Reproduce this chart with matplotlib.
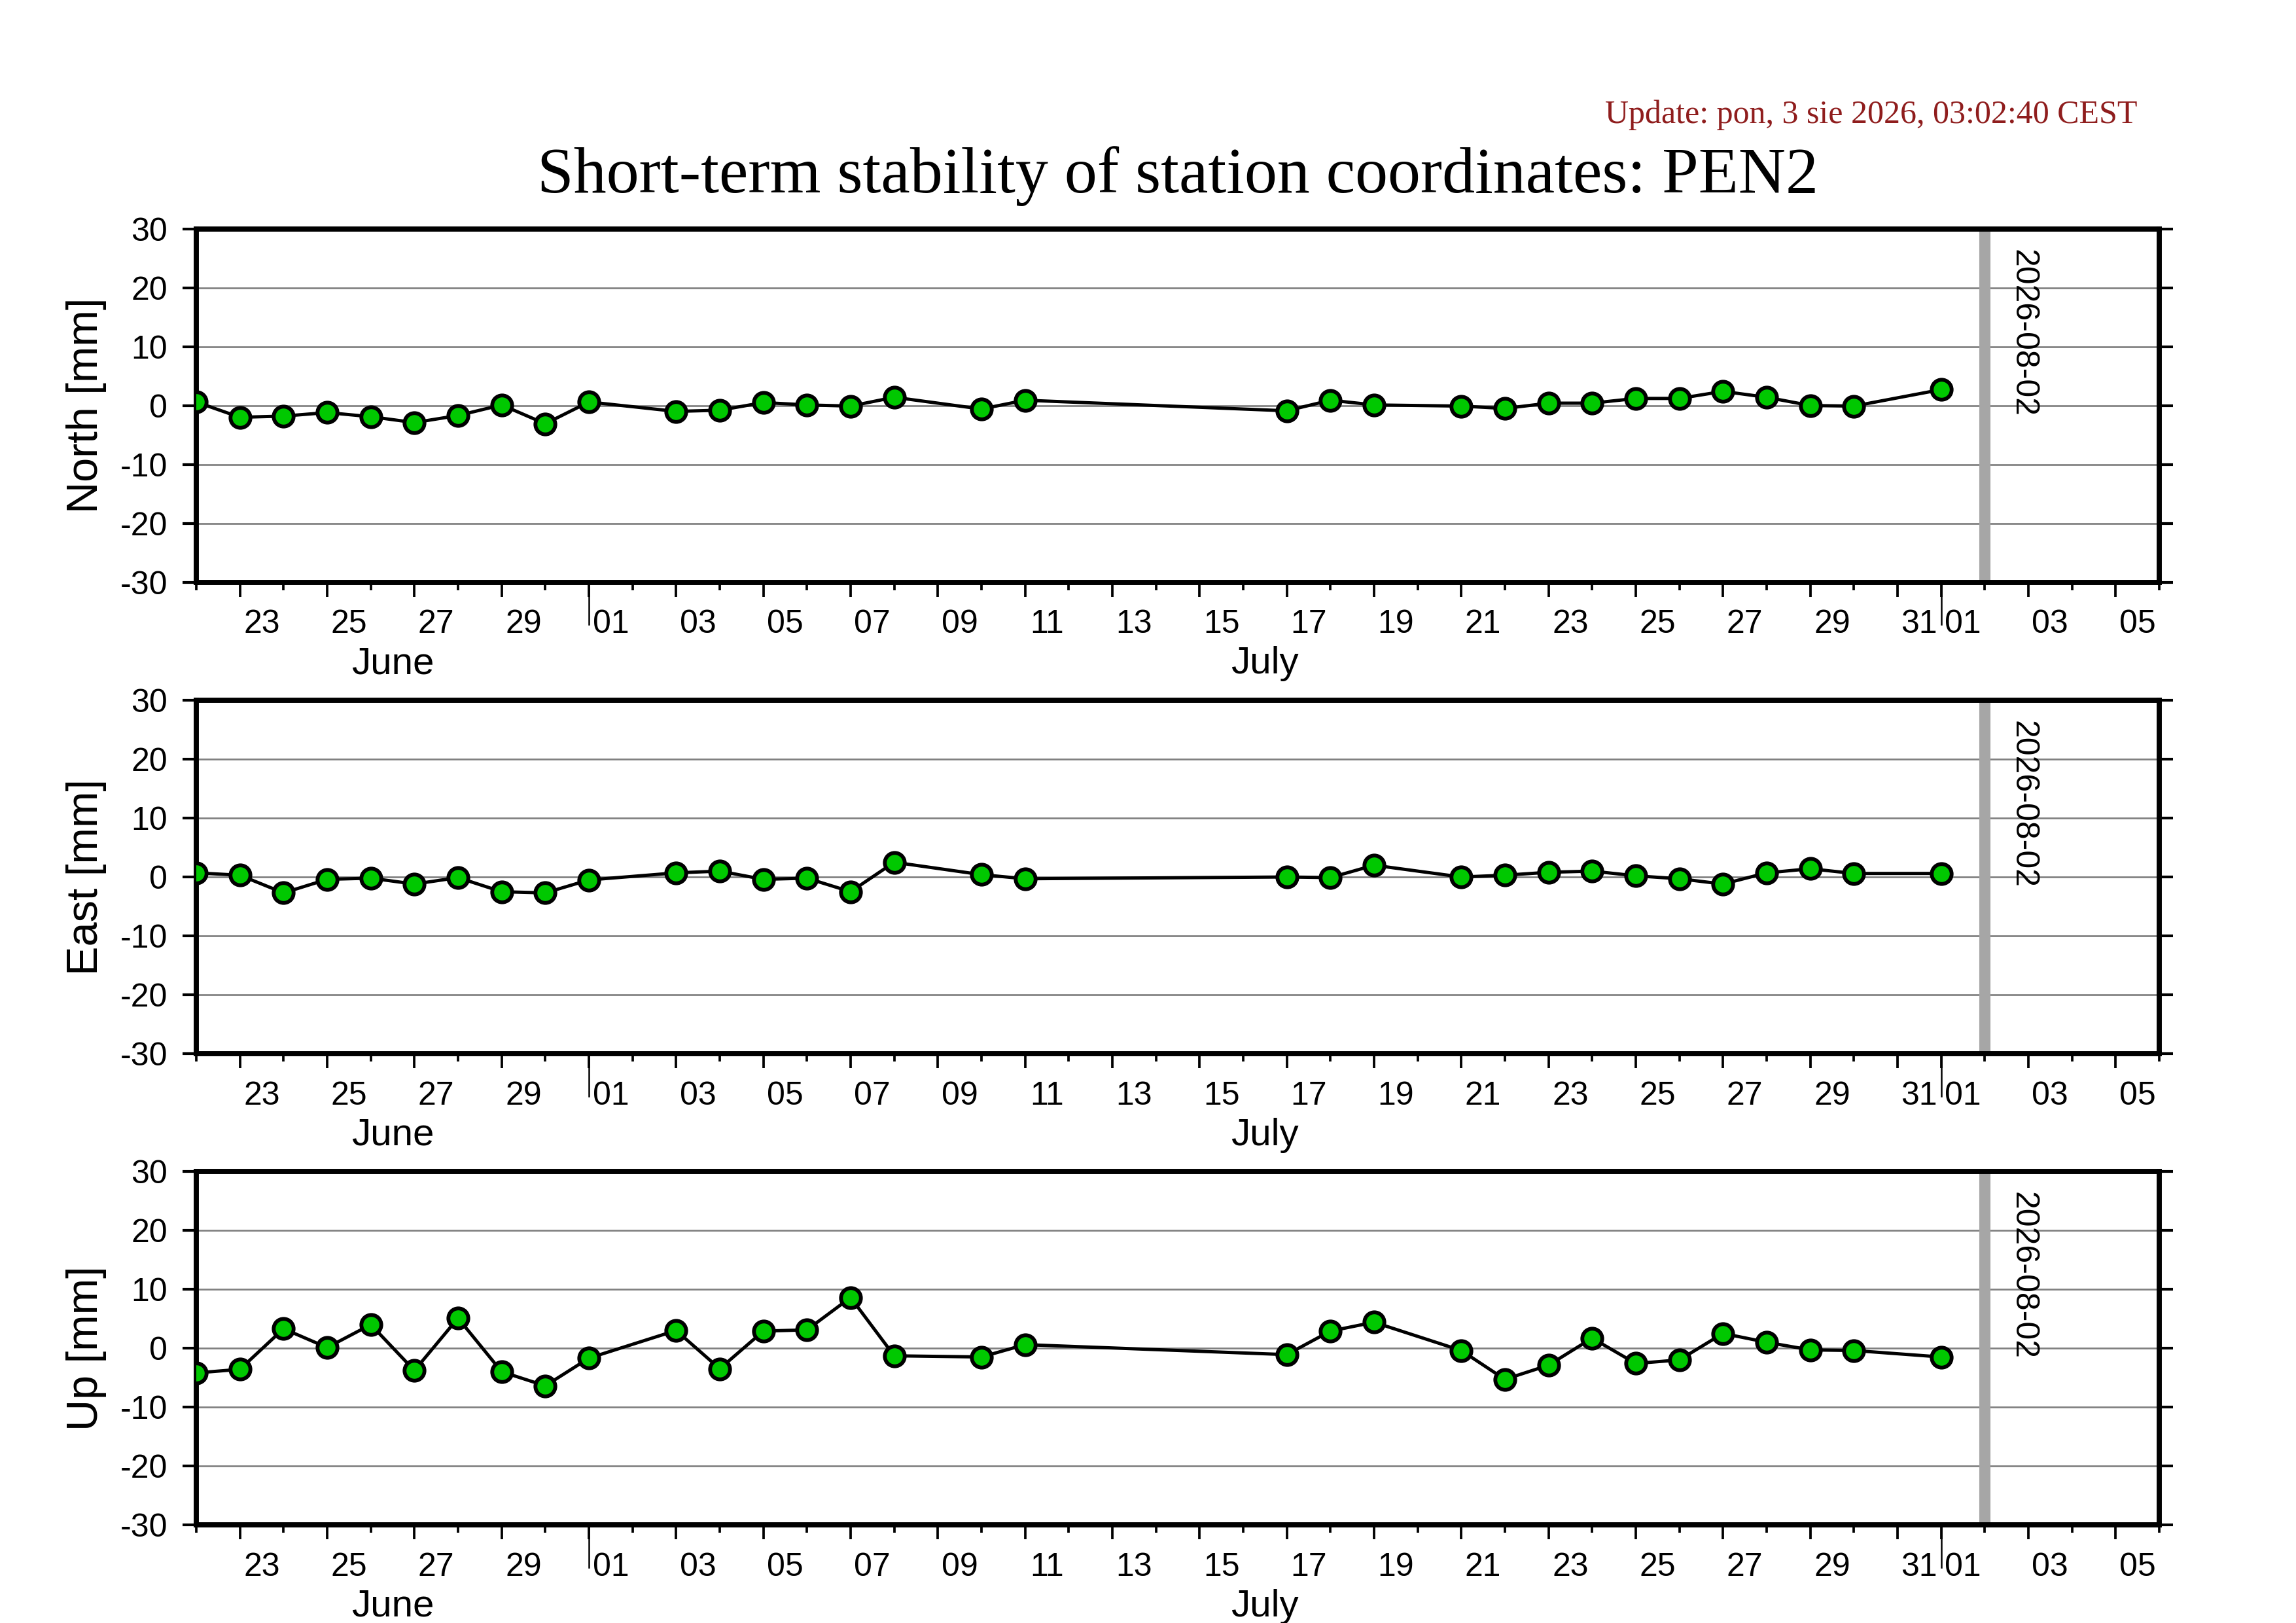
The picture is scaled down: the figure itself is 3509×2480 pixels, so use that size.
"""Short-term stability of station coordinates for PEN2 (North/East/Up)."""

import matplotlib

matplotlib.use("Agg")

import matplotlib.dates as mdates
import matplotlib.pyplot as plt
import numpy as np

plt.rcParams["axes.unicode_minus"] = False

# --- data ---------------------------------------------------------------
dates = np.array(
    [
        "2026-06-22", "2026-06-23", "2026-06-24", "2026-06-25", "2026-06-26",
        "2026-06-27", "2026-06-28", "2026-06-29", "2026-06-30", "2026-07-01",
        "2026-07-03", "2026-07-04", "2026-07-05", "2026-07-06", "2026-07-07",
        "2026-07-08", "2026-07-10", "2026-07-11", "2026-07-17", "2026-07-18",
        "2026-07-19", "2026-07-21", "2026-07-22", "2026-07-23", "2026-07-24",
        "2026-07-25", "2026-07-26", "2026-07-27", "2026-07-28", "2026-07-29",
        "2026-07-30", "2026-08-01",
    ],
    dtype="datetime64[D]",
)

north = [0.6, -2.0, -1.8, -1.2, -1.9, -2.9, -1.7, 0.1, -3.1, 0.6,
         -1.0, -0.8, 0.5, 0.1, -0.1, 1.4, -0.6, 0.9, -0.9, 0.9,
         0.1, -0.1, -0.5, 0.4, 0.4, 1.2, 1.2, 2.4, 1.4, 0.0,
         -0.1, 2.7]
east = [0.7, 0.3, -2.7, -0.4, -0.2, -1.2, -0.1, -2.5, -2.7, -0.5,
        0.7, 1.0, -0.4, -0.2, -2.5, 2.5, 0.4, -0.3, 0.0, -0.1,
        2.0, 0.0, 0.3, 0.8, 1.0, 0.2, -0.3, -1.2, 0.7, 1.4,
        0.6, 0.6]
up = [-4.2, -3.6, 3.3, 0.1, 4.0, -3.8, 5.1, -4.0, -6.4, -1.7,
      3.0, -3.5, 2.9, 3.1, 8.6, -1.3, -1.5, 0.6, -1.1, 2.9,
      4.4, -0.4, -5.3, -2.9, 1.7, -2.6, -2.0, 2.5, 1.0, -0.3,
      -0.4, -1.5]

panel_labels = ["North [mm]", "East [mm]", "Up [mm]"]
y_ticks = [-30, -20, -10, 0, 10, 20, 30]
x_start = np.datetime64("2026-06-22")
x_end = np.datetime64("2026-08-06")
report_day = np.datetime64("2026-08-02")
month_names = ["June", "July"]
month_bounds = [np.datetime64("2026-07-01"), np.datetime64("2026-08-01")]

title_text = "Short-term stability of station coordinates: PEN2"
update_text = "Update: pon, 3 sie 2026, 03:02:40 CEST"

SANS = "Liberation Sans"
SERIF = "Liberation Serif"
GREEN = "#00c800"

# --- figure -------------------------------------------------------------
fig = plt.figure(figsize=(3509 / 300, 2480 / 300), dpi=300)

left, width, height = 0.0855, 0.8549, 0.2177
bottoms = [0.6413, 0.3508, 0.0605]

days = np.arange(x_start, x_end + 1)
odd_days = np.array([d for d in days if d.astype(object).day % 2 == 1])
day_text = [f"{d.astype(object).day:02d}" for d in odd_days]

# month label sits in the middle of the visible part of the month
month_starts = [x_start] + month_bounds[:-1]
month_mid = [mdates.date2num(a) + (mdates.date2num(b) - mdates.date2num(a)) / 2
             for a, b in zip(month_starts, month_bounds)]

for label, values, bottom in zip(panel_labels, [north, east, up], bottoms):
    ax = fig.add_axes([left, bottom, width, height])

    ax.plot(dates, values, color="black", lw=1.2, zorder=3,
            marker="o", markersize=7.3, markerfacecolor=GREEN,
            markeredgecolor="black", markeredgewidth=1.4)

    ax.axvline(report_day, color="#a6a6a6", lw=4.1, zorder=2)
    ax.annotate(str(report_day), xy=(report_day, 1.0),
                xycoords=("data", "axes fraction"),
                xytext=(8.5, -7.5), textcoords="offset points",
                rotation=270, ha="left", va="top",
                fontsize=12, family=SANS)

    ax.set_xlim(x_start, x_end)
    ax.set_ylim(-30, 30)
    ax.set_yticks(y_ticks)
    ax.yaxis.grid(True, color="#808080", lw=0.65, zorder=0)
    ax.set_axisbelow(True)

    ax.set_xticks(mdates.date2num(odd_days))
    ax.set_xticks(mdates.date2num(days), minor=True)
    ax.tick_params(axis="x", which="major", length=5.2, width=0.9,
                   labelbottom=False, direction="out")
    ax.tick_params(axis="x", which="minor", length=2.8, width=0.9,
                   direction="out")
    ax.tick_params(axis="y", which="major", length=5, width=1.0,
                   direction="out", right=True, pad=5.5,
                   labelsize=12)
    for tick in ax.get_yticklabels():
        tick.set_family(SANS)

    for spine in ax.spines.values():
        spine.set_linewidth(1.9)

    ax.set_ylabel(label, fontsize=16, family=SANS, labelpad=5)

    # month boundary marks hanging below the axis
    for b in month_bounds:
        ax.axvline(b, ymin=-0.12, ymax=0, color="black", lw=0.6,
                   clip_on=False)

    # day numbers centred on each labelled day
    day_axis = ax.secondary_xaxis("bottom")
    day_axis.set_xticks(mdates.date2num(odd_days) + 0.5, day_text)
    day_axis.tick_params(length=0, pad=10, labelsize=12)
    day_axis.spines["bottom"].set_visible(False)
    for tick in day_axis.get_xticklabels():
        tick.set_family(SANS)

    month_axis = ax.secondary_xaxis("bottom")
    month_axis.set_xticks(month_mid, month_names)
    month_axis.tick_params(length=0, pad=23.5, labelsize=14)
    month_axis.spines["bottom"].set_visible(False)
    for tick in month_axis.get_xticklabels():
        tick.set_family(SANS)

fig.text(left + width / 2, 0.8815, title_text, ha="center", va="baseline",
         fontsize=24, family=SERIF)
fig.text(0.931, 0.9242, update_text, ha="right", va="baseline",
         fontsize=12, family=SERIF, color="#8f1d1d")

fig.savefig("out.png", dpi=300)
